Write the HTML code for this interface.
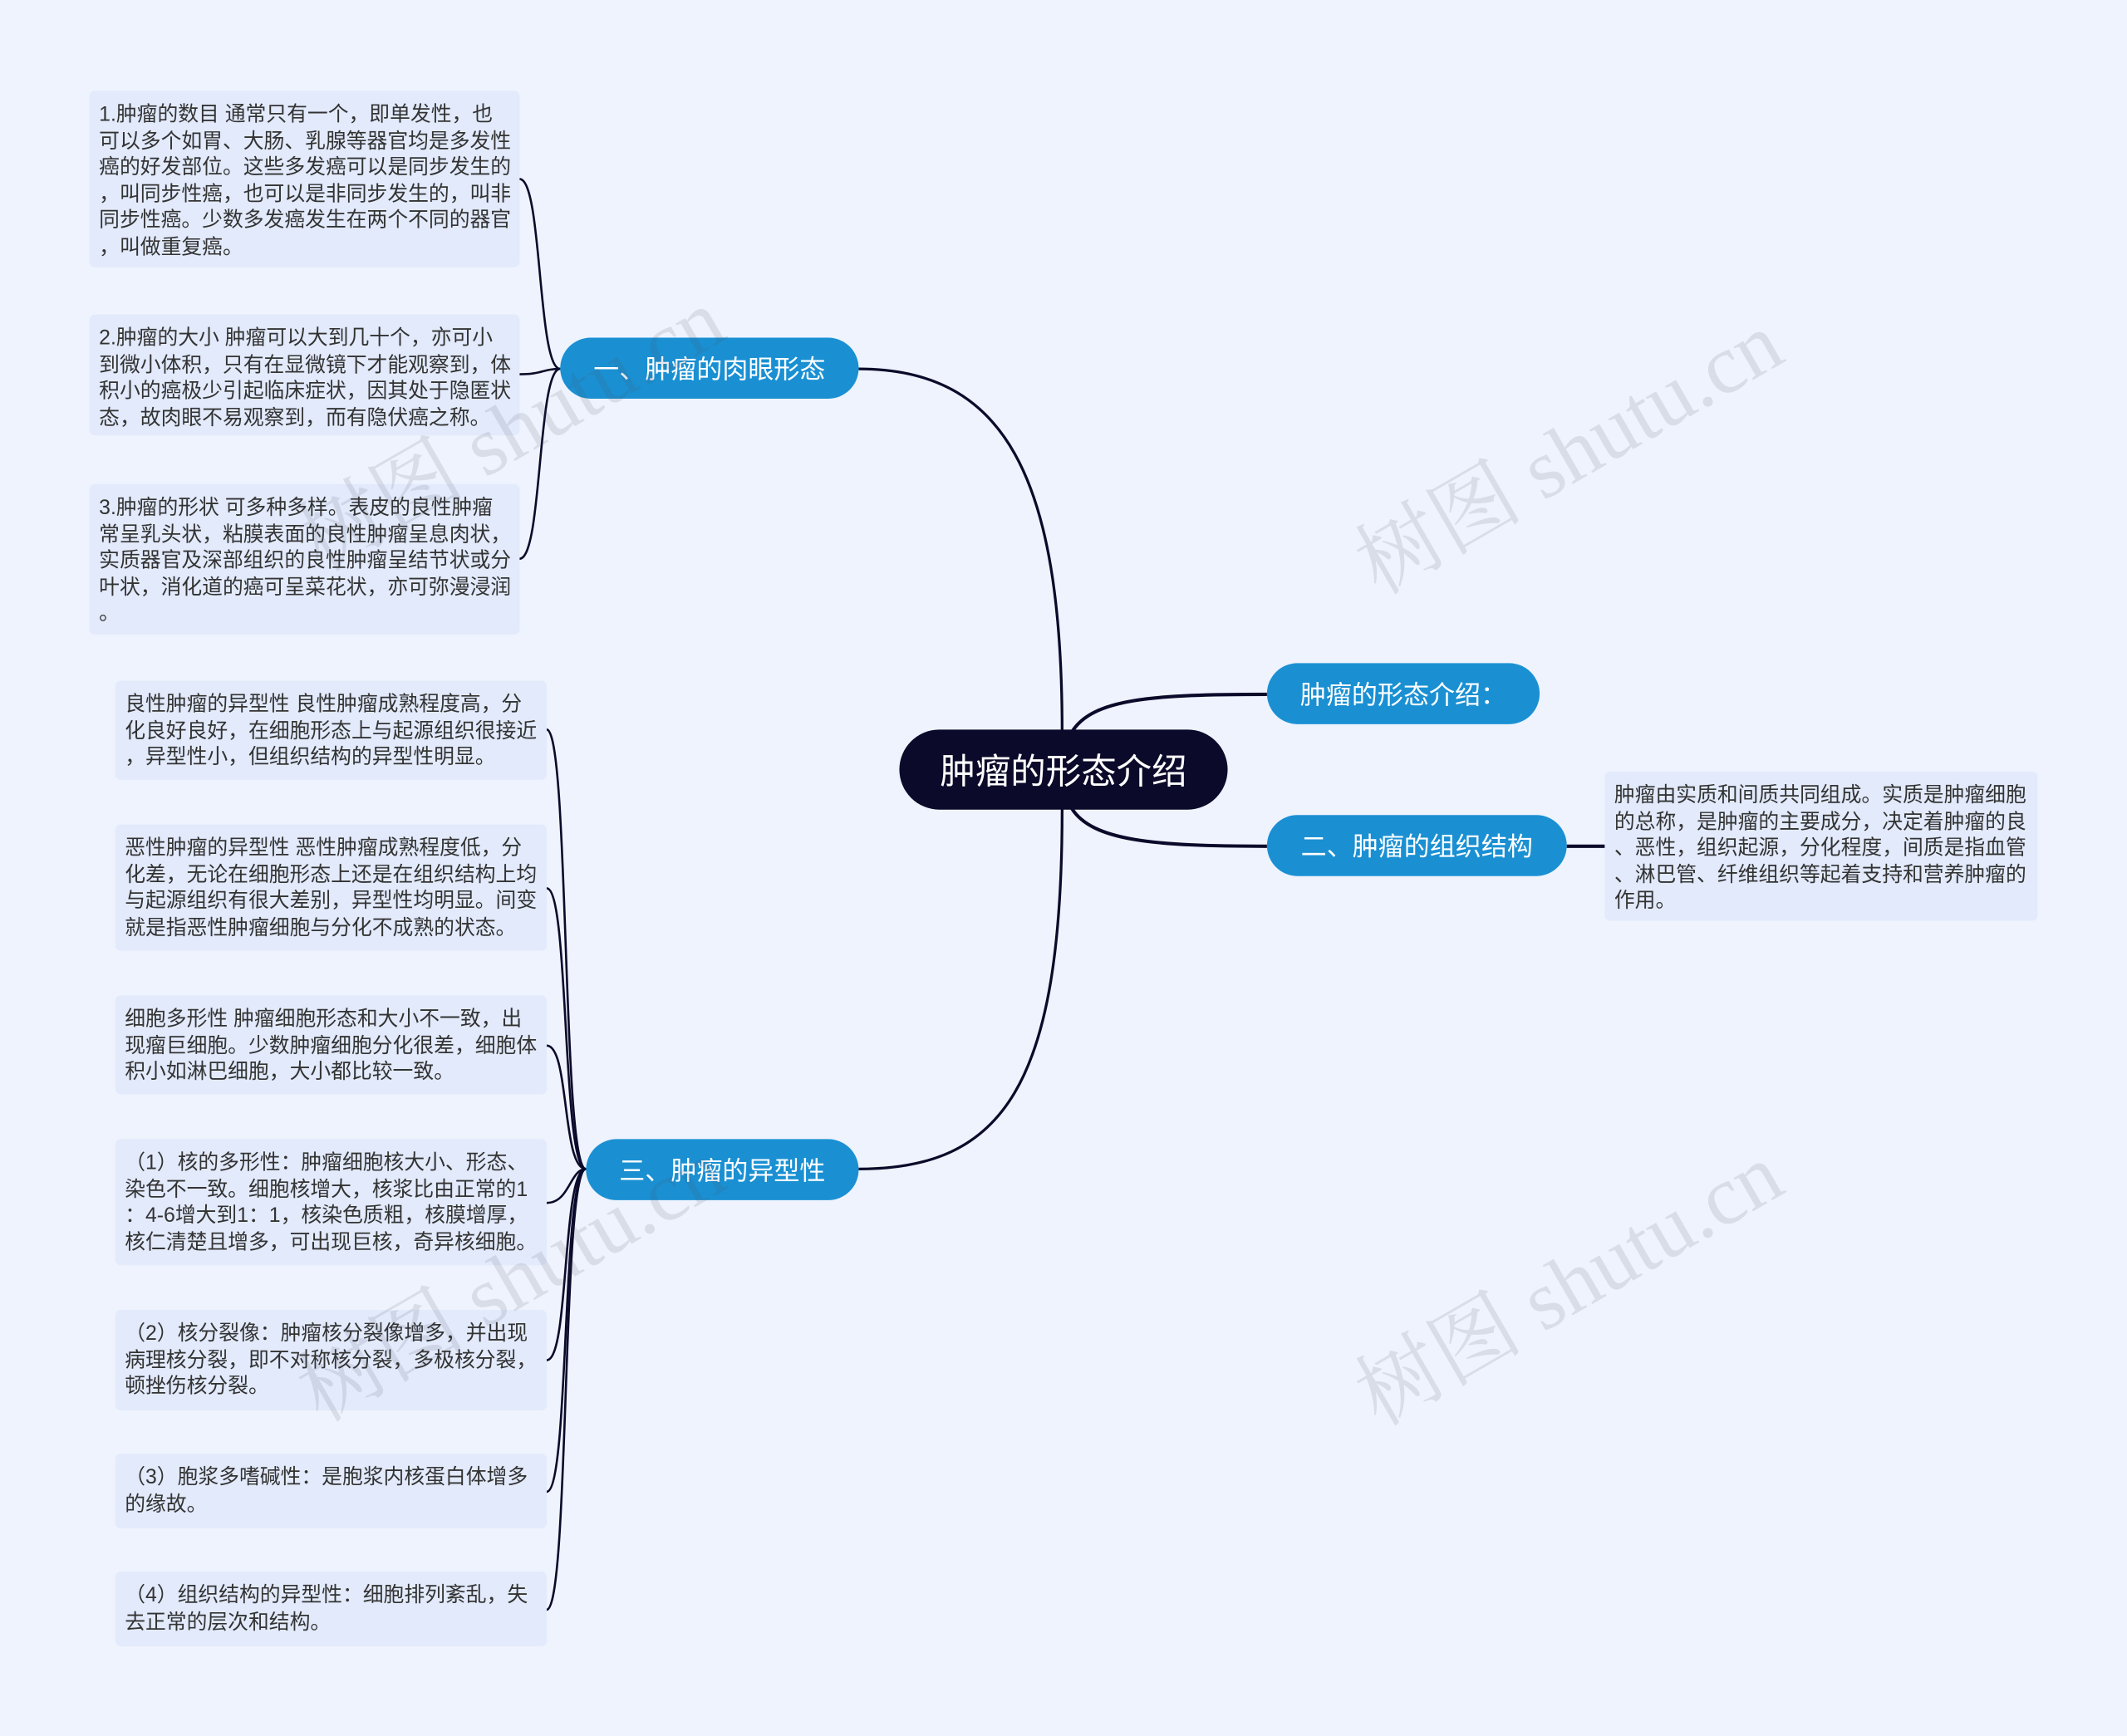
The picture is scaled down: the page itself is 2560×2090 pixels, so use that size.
<!DOCTYPE html>
<html><head><meta charset="utf-8"><style>
html,body{margin:0;padding:0;background:#eef3fd;width:2560px;height:2089px;overflow:hidden}
#w{position:absolute;left:0;top:0;width:1568px;height:1280px;transform:scale(1.63265);transform-origin:0 0;font-family:"Liberation Sans","Noto Sans CJK SC",sans-serif}
.n{position:absolute;color:#fff;display:flex;align-items:center;justify-content:center;white-space:nowrap}
.b{position:absolute;background:#e2eafb;border-radius:4px;color:#333;font-size:15.2px;line-height:19.6px;padding:8px 7px 6px;box-sizing:border-box;white-space:nowrap}
.wm{position:absolute;font-size:62px;color:rgba(80,80,90,0.13);transform:rotate(-30deg);white-space:nowrap;font-family:"Liberation Serif","Noto Serif CJK SC",serif}
svg{position:absolute;left:0;top:0}
</style></head><body><div id="w">
<svg width="1568" height="1280" fill="none" stroke="#0b0a2a" stroke-width="2">
<path d="M783,540 C783,350 740,272 633,272"/>
<path d="M783,596 C783,800 740,862 633,862"/>
<path d="M790,540 C805,515 850,512 934,512" stroke-width="2.5"/>
<path d="M790,596 C805,620 850,624 934,624" stroke-width="2.5"/>
<path d="M1155,624 L1183,624" stroke-width="2.5"/>
<g stroke-width="1.6">
<path d="M413,272 C396,272 400,132 383,132"/>
<path d="M413,272 C400,272 400,276 383,276"/>
<path d="M413,272 C396,272 400,412 383,412"/>
<path d="M432,862 C414,862 420,538 403,538"/>
<path d="M432,862 C414,862 420,655 403,655"/>
<path d="M432,862 C414,862 420,771 403,771"/>
<path d="M432,862 C420,862 420,887 403,887"/>
<path d="M432,862 C414,862 420,1003 403,1003"/>
<path d="M432,862 C414,862 420,1100 403,1100"/>
<path d="M432,862 C414,862 420,1187 403,1187"/>
</g></svg>
<div class="n" style="left:663px;top:538px;width:242px;height:59px;background:#0b0a2a;border-radius:30px;font-size:26px">肿瘤的形态介绍</div>
<div class="n" style="left:934px;top:489px;width:201px;height:45px;background:#1a90d3;border-radius:23px;font-size:19px">肿瘤的形态介绍：</div>
<div class="n" style="left:934px;top:601px;width:221px;height:45px;background:#1a90d3;border-radius:23px;font-size:19px">二、肿瘤的组织结构</div>
<div class="n" style="left:413px;top:249px;width:220px;height:45px;background:#1a90d3;border-radius:23px;font-size:19px">一、肿瘤的肉眼形态</div>
<div class="n" style="left:432px;top:840px;width:201px;height:45px;background:#1a90d3;border-radius:23px;font-size:19px">三、肿瘤的异型性</div>
<div class="b" style="left:1183px;top:569px;width:319px;height:110px">肿瘤由实质和间质共同组成。实质是肿瘤细胞<br>的总称，是肿瘤的主要成分，决定着肿瘤的良<br>、恶性，组织起源，分化程度，间质是指血管<br>、淋巴管、纤维组织等起着支持和营养肿瘤的<br>作用。</div>
<div class="b" style="left:66px;top:67px;width:317px;height:130px">1.肿瘤的数目 通常只有一个，即单发性，也<br>可以多个如胃、大肠、乳腺等器官均是多发性<br>癌的好发部位。这些多发癌可以是同步发生的<br>，叫同步性癌，也可以是非同步发生的，叫非<br>同步性癌。少数多发癌发生在两个不同的器官<br>，叫做重复癌。</div>
<div class="b" style="left:66px;top:232px;width:317px;height:89px">2.肿瘤的大小 肿瘤可以大到几十个，亦可小<br>到微小体积，只有在显微镜下才能观察到，体<br>积小的癌极少引起临床症状，因其处于隐匿状<br>态，故肉眼不易观察到，而有隐伏癌之称。</div>
<div class="b" style="left:66px;top:357px;width:317px;height:111px">3.肿瘤的形状 可多种多样。表皮的良性肿瘤<br>常呈乳头状，粘膜表面的良性肿瘤呈息肉状，<br>实质器官及深部组织的良性肿瘤呈结节状或分<br>叶状，消化道的癌可呈菜花状，亦可弥漫浸润<br>。</div>
<div class="b" style="left:85px;top:502px;width:318px;height:73px">良性肿瘤的异型性 良性肿瘤成熟程度高，分<br>化良好良好，在细胞形态上与起源组织很接近<br>，异型性小，但组织结构的异型性明显。</div>
<div class="b" style="left:85px;top:608px;width:318px;height:93px">恶性肿瘤的异型性 恶性肿瘤成熟程度低，分<br>化差，无论在细胞形态上还是在组织结构上均<br>与起源组织有很大差别，异型性均明显。间变<br>就是指恶性肿瘤细胞与分化不成熟的状态。</div>
<div class="b" style="left:85px;top:734px;width:318px;height:73px">细胞多形性 肿瘤细胞形态和大小不一致，出<br>现瘤巨细胞。少数肿瘤细胞分化很差，细胞体<br>积小如淋巴细胞，大小都比较一致。</div>
<div class="b" style="left:85px;top:840px;width:318px;height:93px">（1）核的多形性：肿瘤细胞核大小、形态、<br>染色不一致。细胞核增大，核浆比由正常的1<br>：4-6增大到1：1，核染色质粗，核膜增厚，<br>核仁清楚且增多，可出现巨核，奇异核细胞。</div>
<div class="b" style="left:85px;top:966px;width:318px;height:74px">（2）核分裂像：肿瘤核分裂像增多，并出现<br>病理核分裂，即不对称核分裂，多极核分裂，<br>顿挫伤核分裂。</div>
<div class="b" style="left:85px;top:1072px;width:318px;height:55px">（3）胞浆多嗜碱性：是胞浆内核蛋白体增多<br>的缘故。</div>
<div class="b" style="left:85px;top:1159px;width:318px;height:55px">（4）组织结构的异型性：细胞排列紊乱，失<br>去正常的层次和结构。</div>
<div class="wm" style="left:200px;top:268px">树图 shutu.cn</div>
<div class="wm" style="left:980px;top:285px">树图 shutu.cn</div>
<div class="wm" style="left:200px;top:895px">树图 shutu.cn</div>
<div class="wm" style="left:980px;top:898px">树图 shutu.cn</div>
</div></body></html>
